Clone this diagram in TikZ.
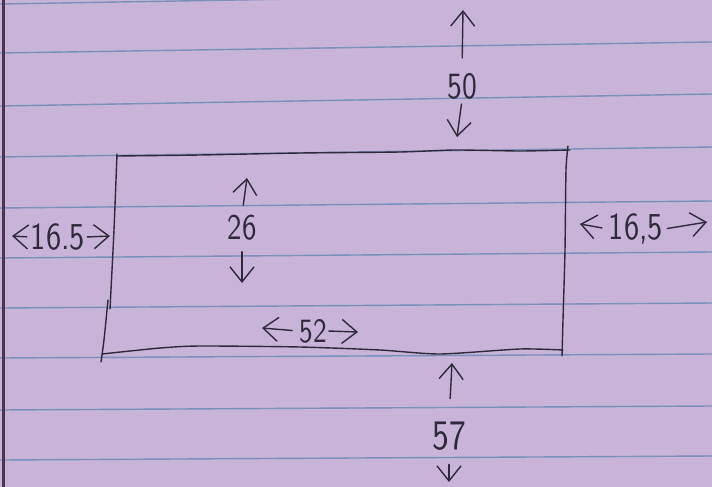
\documentclass[tikz,border=0pt]{standalone}
\usepackage{fontspec}
\newfontfamily\handfont[FakeStretch=0.8]{lmsans10-regular.otf}
\usetikzlibrary{arrows.meta}
\definecolor{paper}{HTML}{C7B4D8}
\definecolor{rulec}{HTML}{7A8FBC}
\definecolor{inkc}{HTML}{2E2A3C}
\definecolor{marginc}{HTML}{4A3550}
\begin{document}
\begin{tikzpicture}[x=1pt,y=-1pt,
  ink/.style={draw=inkc, line width=1.4pt, line cap=round, line join=round},
  dimarr/.style={ink, arrows={-Straight Barb[length=15pt, width=24pt]}},
  lab/.style={text=inkc, font=\handfont\fontsize{#1}{#1}\selectfont, inner sep=1pt},
  ruleline/.style={draw=rulec, line width=1.4pt}]
\useasboundingbox (0,0) rectangle (712,487);
\clip (0,0) rectangle (712,487);
\fill[paper] (0,0) rectangle (712,487);
% ruled lines
\foreach \l/\r in {4/-8, 53/42, 106/94, 157/147, 208/201, 258/252, 308/303, 358/354, 410/406, 460/456}
  \draw[ruleline] (0,\l) -- (712,\r);
% margin
\draw[marginc, line width=3pt] (3,0) -- (3,487);
% rectangle (hand drawn)
\draw[ink] plot[smooth, tension=0.4] coordinates {(117,156) (200,155) (300,153) (400,152) (455,150) (520,151) (570,150)};
\draw[ink] plot[smooth, tension=0.4] coordinates {(568,146) (566,170) (565,250) (563,320) (562,356)};
\draw[ink] plot[smooth, tension=0.4] coordinates {(563,350) (520,349) (440,354) (380,350) (300,347) (200,346) (160,348) (102,354)};
\draw[ink] plot[smooth, tension=0.4] coordinates {(117,154) (114,230) (110,309)};
\draw[ink] plot[smooth, tension=0.4] coordinates {(108,300) (104,340) (101,362)};
% labels
\node[lab=37] (t50) at (462,86) {50};
\node[lab=36] (t26) at (242,228) {26};
\node[lab=38] (tL) at (58,237) {16.5};
\node[lab=38] (tR) at (636,229) {16,5};
\node[lab=34] (t52) at (313,331) {52};
\node[lab=42] (t57) at (449,436) {57};
% arrow ends
\coordinate (u50) at (463,10);
\coordinate (d50) at (457,137);
\coordinate (u26) at (247,178);
\coordinate (d26) at (242,283);
\coordinate (lL) at (12,236);
\coordinate (rL) at (110,236);
\coordinate (lR) at (580,224);
\coordinate (rR) at (707,222);
\coordinate (l52) at (262,328);
\coordinate (r52) at (358,332);
\coordinate (u57) at (452,363);
\coordinate (d57) at (449,482);
% arrows
\draw[dimarr, shorten <=14pt] (t50.north) -- (u50);
\draw[dimarr, shorten <=4pt] (t50.south) -- (d50);
\draw[dimarr, shorten <=9pt] (t26.north) -- (u26);
\draw[dimarr, shorten <=10pt] (t26.south) -- (d26);
\draw[dimarr, shorten <=3pt] (tL.west) -- (lL);
\draw[dimarr, shorten <=1pt] (tL.east) -- (rL);
\draw[dimarr, shorten <=6pt] (tR.west) -- (lR);
\draw[dimarr, shorten <=3pt] (tR.east) -- (rR);
\draw[dimarr, shorten <=6pt] (t52.west) -- (l52);
\draw[dimarr, shorten <=1pt] (t52.east) -- (r52);
\draw[dimarr, shorten <=22pt] (t57.north) -- (u57);
\draw[dimarr, shorten <=13pt] (t57.south) -- (d57);
\end{tikzpicture}
\end{document}
